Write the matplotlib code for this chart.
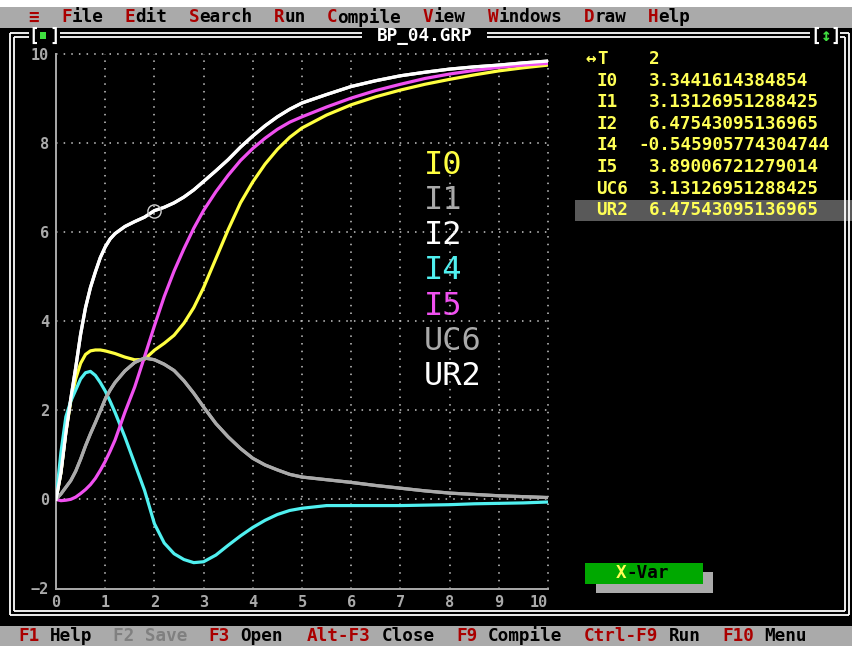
import matplotlib
matplotlib.use("Agg")
import matplotlib.pyplot as plt
from matplotlib.patches import Rectangle

W, H = 852, 646

# ---- simulation output: time axis and node currents / voltages ----
t = [0.0, 0.1, 0.2, 0.3, 0.4, 0.5, 0.6, 0.7, 0.8, 0.9, 1.0, 1.1, 1.2, 1.4, 1.6, 1.8,
     2.0, 2.2, 2.4, 2.6, 2.8, 3.0, 3.25, 3.5, 3.75, 4.0, 4.25, 4.5, 4.75, 5.0,
     5.5, 6.0, 6.5, 7.0, 7.5, 8.0, 8.5, 9.0, 9.5, 10.0]

i0 = [0.0, 0.6, 1.5, 2.2, 2.7, 3.05, 3.25, 3.33, 3.35, 3.35, 3.33, 3.3, 3.27, 3.19, 3.13, 3.14,
      3.3441614384854, 3.5, 3.68, 3.95, 4.3, 4.75, 5.4, 6.05, 6.65, 7.12, 7.52, 7.85, 8.12, 8.33,
      8.62, 8.85, 9.03, 9.18, 9.31, 9.42, 9.52, 9.61, 9.68, 9.74]

i1 = [0.0, 0.12, 0.27, 0.42, 0.63, 0.9, 1.2, 1.47, 1.72, 1.98, 2.25, 2.45, 2.62, 2.88, 3.07, 3.17,
      3.13126951288425, 3.03, 2.89, 2.66, 2.38, 2.07, 1.7, 1.4, 1.14, 0.92, 0.77, 0.66, 0.56, 0.5,
      0.44, 0.38, 0.31, 0.25, 0.19, 0.14, 0.11, 0.08, 0.06, 0.04]

i2 = [0.0, 0.6, 1.5, 2.25, 2.95, 3.7, 4.3, 4.75, 5.1, 5.42, 5.66, 5.84, 5.96, 6.12, 6.23, 6.33,
      6.47543095136965, 6.55, 6.65, 6.78, 6.94, 7.13, 7.37, 7.62, 7.9, 8.15, 8.38, 8.58, 8.75, 8.89,
      9.08, 9.26, 9.39, 9.5, 9.58, 9.65, 9.7, 9.74, 9.79, 9.83]

i4 = [0.0, 1.05, 1.85, 2.2, 2.45, 2.7, 2.84, 2.87, 2.78, 2.62, 2.43, 2.2, 1.95, 1.4, 0.8, 0.2,
      -0.545905774304744, -0.98, -1.22, -1.35, -1.42, -1.4, -1.25, -1.03, -0.82, -0.63, -0.47,
      -0.34, -0.25, -0.2, -0.14, -0.14, -0.14, -0.14, -0.13, -0.12, -0.1, -0.09, -0.08, -0.06]

i5 = [0.0, -0.03, -0.02, 0.0, 0.05, 0.13, 0.22, 0.33, 0.47, 0.65, 0.85, 1.08, 1.33, 1.95, 2.52, 3.2,
      3.89006721279014, 4.55, 5.12, 5.62, 6.08, 6.48, 6.9, 7.27, 7.6, 7.87, 8.1, 8.3, 8.46, 8.58,
      8.8, 9.0, 9.17, 9.31, 9.44, 9.54, 9.62, 9.69, 9.74, 9.78]

uc6 = list(i1)   # capacitor voltage tracks I1
ur2 = list(i2)   # resistor voltage tracks I2

series_names = ["I0", "I1", "I2", "I4", "I5", "UC6", "UR2"]
series_data = [i0, i1, i2, i4, i5, uc6, ur2]
series_colors = ["#ffff40", "#aaaaaa", "#ffffff", "#50f0f0", "#f050f0", "#aaaaaa", "#ffffff"]

cursor_t = 2.0
x_ticks = [0, 1, 2, 3, 4, 5, 6, 7, 8, 9, 10]
y_ticks = [-2, 0, 2, 4, 6, 8, 10]

menu_items = ["File", "Edit", "Search", "Run", "Compile", "View", "Windows", "Draw", "Help"]
menu_x = [61, 125, 189, 274, 327, 423, 488, 584, 648]

status_keys = ["F1", "F2", "F3", "Alt-F3", "F9", "Ctrl-F9", "F10"]
status_words = ["Help", "Save", "Open", "Close", "Compile", "Run", "Menu"]
status_x = [18, 113, 208, 307, 456, 584, 722]

MONO = "DejaVu Sans Mono"
GRAY = "#aaaaaa"
RED = "#aa0000"
YEL = "#ffff55"
CW = 10.62  # character cell width in pixels

fig = plt.figure(figsize=(W / 100, H / 100), dpi=100, facecolor="black")

# full-screen layer in pixel coordinates for the text-mode chrome
bg = fig.add_axes([0, 0, 1, 1])
bg.set_xlim(0, W)
bg.set_ylim(H, 0)
bg.axis("off")
bg.set_zorder(0)

def txt(x, y, s, color, size=12.7, weight="bold", ha="left", **kw):
    bg.text(x, y, s, color=color, fontsize=size, family=MONO, weight=weight,
            ha=ha, va="center", **kw)

# menu bar
bg.add_patch(Rectangle((0, 0), W, 7, color="white", lw=0))
bg.add_patch(Rectangle((0, 7), W, 21, color=GRAY, lw=0))
txt(28, 17.5, "≡", RED)
for name, x in zip(menu_items, menu_x):
    txt(x, 17.5, name[0], RED)
    txt(x + CW, 17.5, name[1:], "black")

# status bar
bg.add_patch(Rectangle((0, 626), W, 20, color=GRAY, lw=0))
for key, word, x in zip(status_keys, status_words, status_x):
    if key == "F2":
        txt(x, 636, key + " " + word, "#808080")
    else:
        txt(x, 636, key, RED)
        txt(x + CW * (len(key) + 1), 636, word, "black")

# window frame (double line)
fc = "#ffffff"
lw = 1.3
def hline(y, x0, x1):
    bg.plot([x0, x1], [y, y], color=fc, lw=lw, solid_capstyle="butt")
def vline(x, y0, y1):
    bg.plot([x, x], [y0, y1], color=fc, lw=lw, solid_capstyle="butt")

for (x0, x1) in [(10, 29), (60, 362), (487, 810), (840, 849)]:
    hline(33, x0, x1)
    hline(37, max(x0, 14), min(x1, 845))
vline(10, 33, 615)
vline(14, 37, 611)
vline(849, 33, 615)
vline(845, 37, 611)
hline(615, 10, 849)
hline(611, 14, 845)

txt(34, 36, "[", fc, ha="center")
txt(55, 36, "]", fc, ha="center")
bg.add_patch(Rectangle((39.5, 32), 6, 6.5, color="#40e040", lw=0))
txt(424.5, 36, "BP_04.GRP", fc, ha="center")
txt(816, 36, "[", fc, ha="center")
txt(826, 36, "↕", "#40e040", ha="center")
txt(836, 36, "]", fc, ha="center")

# cursor readout panel
row_y = [59 + 21.6 * k for k in range(8)]
bg.add_patch(Rectangle((575, row_y[7] - 10.5), W - 575, 21, color="#595959", lw=0))
idx = t.index(cursor_t)
txt(585, row_y[0], "↔", YEL)
txt(597, row_y[0], "T", YEL)
txt(649, row_y[0], "%g" % cursor_t, YEL)
for k, (name, data) in enumerate(zip(series_names, series_data)):
    v = data[idx]
    s = repr(v)
    x = 649 - CW if s.startswith("-") else 649
    txt(596, row_y[k + 1], name, YEL)
    txt(x, row_y[k + 1], s, YEL)

# X-Var button with shadow
bg.add_patch(Rectangle((596, 572), 117, 21, color=GRAY, lw=0))
bg.add_patch(Rectangle((585, 562.5), 118, 21, color="#00a800", lw=0))
txt(616, 573, "X", YEL)
txt(616 + CW, 573, "-Var", "black")

# ---- data axes ----
ax = fig.add_axes([56 / W, (H - 588.5) / H, (548 - 56) / W, (588.5 - 53.5) / H])
ax.set_zorder(2)
ax.set_facecolor("none")
ax.set_xlim(0, 10)
ax.set_ylim(-2, 10)
for side in ("top", "right"):
    ax.spines[side].set_visible(False)
for side in ("left", "bottom"):
    ax.spines[side].set_color(GRAY)
    ax.spines[side].set_linewidth(1.4)

ax.set_xticks(x_ticks)
ax.set_yticks(y_ticks)
ax.set_xticklabels([str(v) for v in x_ticks])
ax.set_yticklabels(["\u2212" + str(-v) if v < 0 else str(v) for v in y_ticks])
ax.tick_params(length=0, colors=GRAY, labelsize=11, pad=5)
for lab in ax.get_xticklabels() + ax.get_yticklabels():
    lab.set_family(MONO)
    lab.set_weight("bold")
ax.get_xticklabels()[-1].set_horizontalalignment("right")

for xv in x_ticks[1:]:
    ax.axvline(xv, color="#c8c8c8", lw=1.1, ls=(0, (1, 4)), zorder=1, clip_on=False)
for yv in y_ticks[1:]:
    ax.axhline(yv, color="#c8c8c8", lw=1.1, ls=(0, (1, 4)), zorder=1, clip_on=False)

for data, col in zip(series_data, series_colors):
    ax.plot(t, data, color=col, lw=2.3, zorder=3, solid_joinstyle="round")

# cursor marker on I2 at T = 2
ax.plot([cursor_t], [i2[idx]], marker="o", ms=9.5, mfc="none", mec="#d0d0d0",
        mew=1.0, zorder=4)

# in-plot series labels
for k, (name, col) in enumerate(zip(series_names, series_colors)):
    txt(424, 165 + 35.3 * k, name, col, size=23, weight="normal")

fig.savefig("out.png", dpi=100, facecolor="black")
